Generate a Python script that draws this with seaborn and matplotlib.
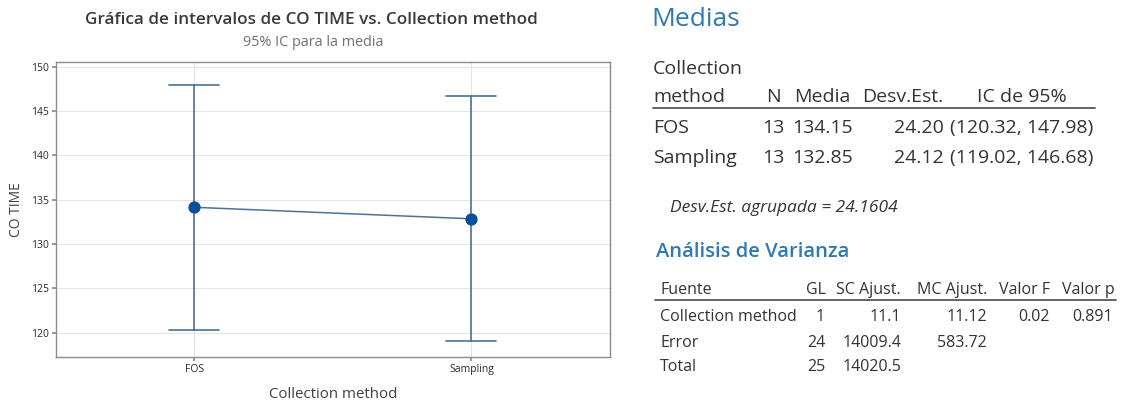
import numpy as np
import pandas as pd
import matplotlib
matplotlib.use("Agg")
import matplotlib.pyplot as plt
import seaborn as sns

# Interval plot data: 95% CI for the mean of CO TIME by collection method
methods = ["FOS", "Sampling"]
means = [134.15, 132.85]
ci_low = [120.32, 119.02]
ci_high = [147.98, 146.68]
n_obs = [13, 13]
std_devs = [24.20, 24.12]
pooled_sd = 24.1604

# ANOVA table
anova_source = ["Collection method", "Error", "Total"]
anova_df = ["1", "24", "25"]
anova_ss = ["11.1", "14009.4", "14020.5"]
anova_ms = ["11.12", "583.72", ""]
anova_f = ["0.02", "", ""]
anova_p = ["0.891", "", ""]

sns.set_theme(style="white")
plt.rcParams["font.family"] = ["Open Sans", "DejaVu Sans"]

W, H = 1121, 403
fig = plt.figure(figsize=(W / 100, H / 100), dpi=100)


def fx(x):
    return x / W


def fy(y):
    return 1 - y / H


ax = fig.add_axes([fx(55.7), fy(356.7), fx(610 - 55.7), (356.7 - 62.3) / H])

# Each interval as low / centre / high, so the median is the mean and the
# full percentile range is the confidence interval
long = pd.DataFrame({
    "Collection method": np.repeat(methods, 3),
    "CO TIME": np.ravel(np.column_stack([ci_low, means, ci_high])),
})

line_col = "#4b7396"
dot_col = "#0b4f9c"
sns.pointplot(
    data=long, x="Collection method", y="CO TIME", ax=ax,
    estimator="median", errorbar=("pi", 100), capsize=0.18,
    color=line_col, markers="o", markersize=8, linewidth=1.1,
    err_kws={"linewidth": 1.2},
)
for ln in ax.lines:
    if ln.get_marker() == "o":
        ln.set_markerfacecolor(dot_col)
        ln.set_markeredgecolor(dot_col)
        ln.set_zorder(5)

ax.set_xlim(-0.5, 1.5)
ax.set_ylim(117.3, 150.5)
ax.set_yticks([120, 125, 130, 135, 140, 145, 150])
ax.grid(True, color="#e6e6e6", linewidth=0.8)
ax.set_axisbelow(True)
for s in ax.spines.values():
    s.set_color("#8c8c8c")
    s.set_linewidth(1.0)
ax.tick_params(axis="both", labelsize=7.5, colors="#2a2a2a", length=3,
               left=True, bottom=True, color="#8c8c8c", pad=2)
ax.set_xlabel("Collection method", fontsize=10.8, color="#404040", labelpad=9,
              fontweight="medium")
ax.set_ylabel("CO TIME", fontsize=10, color="#404040", labelpad=5,
              fontweight="medium")

fig.text(fx(311), fy(20), "Gráfica de intervalos de CO TIME vs. Collection method",
         ha="center", va="center", fontsize=12.3, fontweight="semibold", color="#3a3a3a")
fig.text(fx(313), fy(42), "95% IC para la media", ha="center", va="center",
         fontsize=10.4, color="#707070")

# Means summary
txt = "#333333"
blue = "#2e78b4"
fig.text(fx(651), fy(20), "Medias", ha="left", va="center", fontsize=19,
         color=blue, fontweight="medium")
tsz = 14
fig.text(fx(653), fy(69), "Collection", ha="left", va="center", fontsize=tsz, color=txt)
fig.text(fx(653), fy(97), "method", ha="left", va="center", fontsize=tsz, color=txt)
fig.text(fx(773), fy(97), "N", ha="center", va="center", fontsize=tsz, color=txt)
fig.text(fx(822), fy(97), "Media", ha="center", va="center", fontsize=tsz, color=txt)
fig.text(fx(903), fy(97), "Desv.Est.", ha="center", va="center", fontsize=tsz, color=txt)
fig.text(fx(1022), fy(97), "IC de 95%", ha="center", va="center", fontsize=tsz, color=txt)
fig.add_artist(plt.Line2D([fx(653), fx(1095)], [fy(108), fy(108)], color="#555555", lw=1.3))
for i, yy in enumerate([128, 158]):
    fig.text(fx(653), fy(yy), methods[i], ha="left", va="center", fontsize=tsz, color=txt)
    fig.text(fx(784), fy(yy), f"{n_obs[i]}", ha="right", va="center", fontsize=tsz, color=txt)
    fig.text(fx(853), fy(yy), f"{means[i]:.2f}", ha="right", va="center", fontsize=tsz, color=txt)
    fig.text(fx(944), fy(yy), f"{std_devs[i]:.2f}", ha="right", va="center", fontsize=tsz, color=txt)
    fig.text(fx(1093), fy(yy), f"({ci_low[i]:.2f}, {ci_high[i]:.2f})", ha="right",
             va="center", fontsize=tsz, color=txt)
fig.text(fx(670), fy(208), f"Desv.Est. agrupada = {pooled_sd:.4f}", ha="left",
         va="center", fontsize=12.5, style="italic", color=txt)

# ANOVA summary
fig.text(fx(656), fy(252), "Análisis de Varianza", ha="left", va="center",
         fontsize=14.5, color=blue, fontweight="semibold")
asz = 11.5
fig.text(fx(660), fy(290), "Fuente", ha="left", va="center", fontsize=asz, color=txt)
heads = [("GL", 826), ("SC Ajust.", 901), ("MC Ajust.", 987), ("Valor F", 1050), ("Valor p", 1115)]
for h, xr in heads:
    fig.text(fx(xr), fy(290), h, ha="right", va="center", fontsize=asz, color=txt)
fig.add_artist(plt.Line2D([fx(655), fx(1116)], [fy(300), fy(300)], color="#555555", lw=1.3))
cols = [(anova_df, 825), (anova_ss, 901), (anova_ms, 987), (anova_f, 1050), (anova_p, 1113)]
for i, yy in enumerate([317, 343, 367]):
    fig.text(fx(660), fy(yy), anova_source[i], ha="left", va="center", fontsize=asz, color=txt)
    for vals, xr in cols:
        fig.text(fx(xr), fy(yy), vals[i], ha="right", va="center", fontsize=asz, color=txt)

fig.savefig("out.png", dpi=100, facecolor="white")
